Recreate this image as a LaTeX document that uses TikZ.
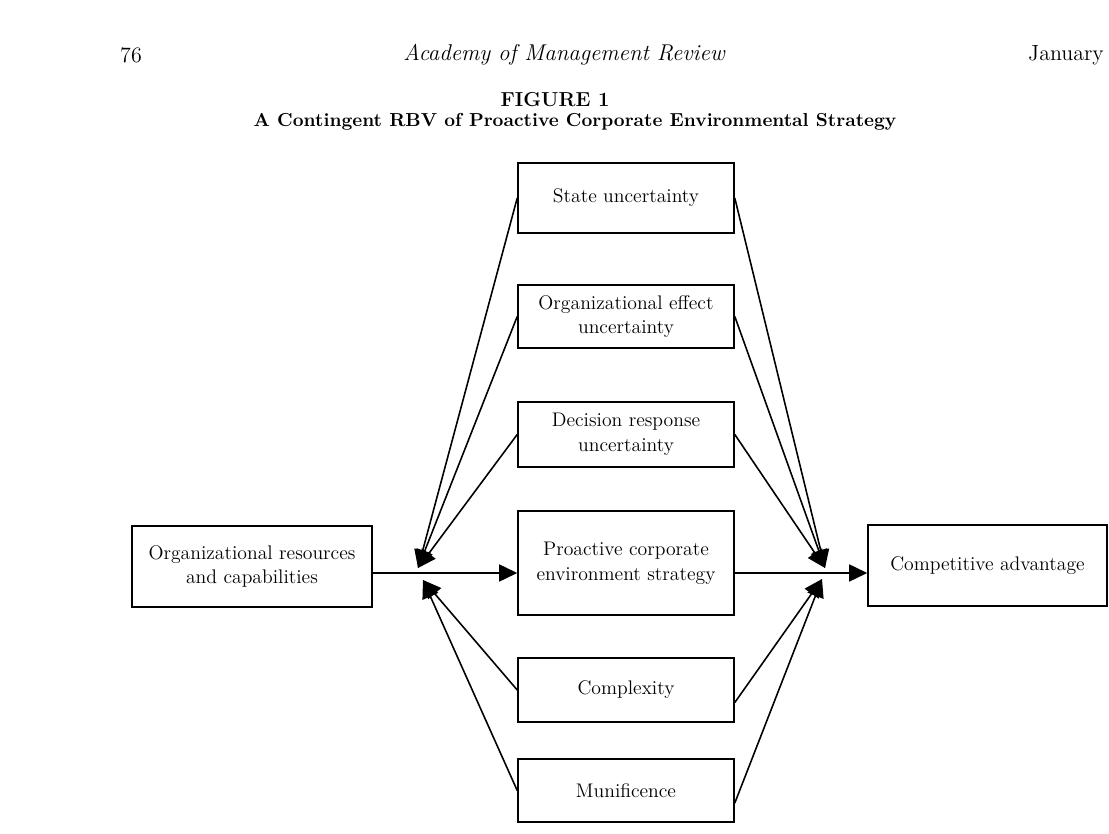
\documentclass[tikz,border=0pt]{standalone}
\usetikzlibrary{arrows.meta}
\tikzset{
  box/.style={draw, line width=0.9pt, align=center, minimum width=4.32cm, font=\fontsize{11.2}{14}\selectfont},
  edge/.style={line width=0.9pt, -{Triangle[length=0.36cm, width=0.34cm]}},
  head/.style={font=\fontsize{12.5}{15}\selectfont}
}

\begin{document}
\begin{tikzpicture}
    \useasboundingbox (0,0) rectangle (22.18,16.66);
    % page header and caption
    \node[head] (page) at (2.62,15.56) {76};
    \node[head, font=\fontsize{13}{15}\selectfont\itshape] (journal) at (11.28,15.56) {Academy of Management Review};
    \node[head, anchor=east] (month) at (22.2,15.56) {January};
    \node[font=\bfseries\fontsize{11.5}{14}\selectfont] (fig) at (11.1,14.66) {FIGURE 1};
    \node[font=\bfseries\fontsize{10.7}{13}\selectfont] (title) at (11.5,14.22) {A Contingent RBV of Proactive Corporate Environmental Strategy};
    % boxes
    \node[box, minimum height=1.4cm] (state) at (12.52,12.70) {State uncertainty};
    \node[box, minimum height=1.26cm] (effect) at (12.52,10.33) {Organizational effect\\uncertainty};
    \node[box, minimum height=1.3cm] (decision) at (12.52,7.97) {Decision response\\uncertainty};
    \node[box, minimum height=2.08cm] (strat) at (12.52,5.40) {Proactive corporate\\environment strategy};
    \node[box, minimum height=1.28cm] (complex) at (12.52,2.86) {Complexity};
    \node[box, minimum height=1.26cm] (munif) at (12.52,0.85) {Munificence};
    \node[box, minimum width=4.8cm, minimum height=1.62cm] (res) at (5.04,5.33) {Organizational resources\\and capabilities};
    \node[box, minimum width=4.78cm, minimum height=1.62cm] (adv) at (19.75,5.35) {Competitive advantage};
    % convergence points
    \coordinate (mid) at (8.4,5.20);
    \coordinate (lup) at (8.36,5.30);
    \coordinate (llo) at (8.46,5.06);
    \coordinate (rup) at (16.5,5.30);
    \coordinate (rlo) at (16.44,5.08);
    % main chain
    \draw[edge] (res.east |- mid) -- (strat.west |- mid);
    \draw[edge] (strat.east |- mid) -- (adv.west |- mid);
    % moderators
    \foreach \m in {state, effect, decision} {
        \draw[edge] (\m.west) -- (lup);
        \draw[edge] (\m.east) -- (rup);
    }
    \foreach \m in {complex, munif} {
        \draw[edge] (\m.west) -- (llo);
        \draw[edge] ([yshift=-0.25cm]\m.east) -- (rlo);
    }
\end{tikzpicture}
\end{document}
